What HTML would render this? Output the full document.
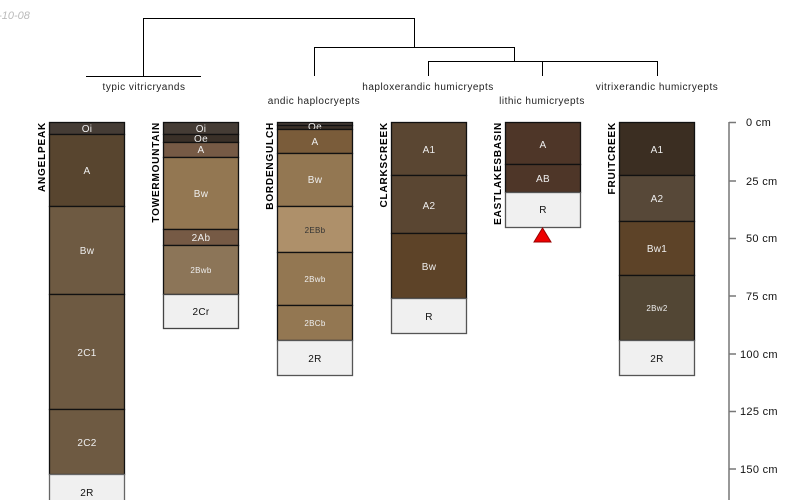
<!DOCTYPE html>
<html><head><meta charset="utf-8"><style>
html,body{margin:0;padding:0;background:#fff;}
svg{display:block;font-family:"Liberation Sans",sans-serif;}
</style></head><body>
<svg width="800" height="500" viewBox="0 0 800 500" xmlns="http://www.w3.org/2000/svg">
<text x="-8" y="19" font-size="11" font-style="italic" fill="#bbb">5-10-08</text>
<g stroke="#000" stroke-width="1" fill="none">
<path d="M143.5 76V18.5H414.5V47"/>
<path d="M86 76.5H201"/>
<path d="M314.5 76V47.5H514.5V61"/>
<path d="M428.5 76V61.5H657.5V76"/>
<path d="M542.5 61V76"/>
</g>
<g font-size="10" fill="#222" text-anchor="middle" letter-spacing="0.5">
<text x="144" y="90">typic vitricryands</text>
<text x="314" y="104">andic haplocryepts</text>
<text x="428" y="90">haploxerandic humicryepts</text>
<text x="542" y="104">lithic humicryepts</text>
<text x="657" y="90">vitrixerandic humicryepts</text>
</g>
<g font-size="10" font-weight="bold" fill="#000" letter-spacing="0.8">
<text transform="translate(45,122) rotate(-90)" text-anchor="end">ANGELPEAK</text>
<text transform="translate(159,122) rotate(-90)" text-anchor="end">TOWERMOUNTAIN</text>
<text transform="translate(273,122) rotate(-90)" text-anchor="end">BORDENGULCH</text>
<text transform="translate(387,122) rotate(-90)" text-anchor="end">CLARKSCREEK</text>
<text transform="translate(501,122) rotate(-90)" text-anchor="end">EASTLAKESBASIN</text>
<text transform="translate(615,122) rotate(-90)" text-anchor="end">FRUITCREEK</text>
</g>
<g stroke="#111" stroke-width="1.3" font-size="10" text-anchor="middle" letter-spacing="0.3">
<rect x="49.5" y="122.5" width="75" height="12" fill="#453c35"/><text x="87" y="132" fill="#eee" stroke="none">Oi</text>
<rect x="49.5" y="134.5" width="75" height="72" fill="#58452f"/><text x="87" y="174" fill="#eee" stroke="none">A</text>
<rect x="49.5" y="206.5" width="75" height="88" fill="#6e5a42"/><text x="87" y="254" fill="#eee" stroke="none">Bw</text>
<rect x="49.5" y="294.5" width="75" height="115" fill="#6e5a42"/><text x="87" y="356" fill="#eee" stroke="none">2C1</text>
<rect x="49.5" y="409.5" width="75" height="65" fill="#6e5a42"/><text x="87" y="446" fill="#eee" stroke="none">2C2</text>
<rect x="49.5" y="474.5" width="75" height="30" fill="#f0f0f0" stroke="#666"/><text x="87" y="496" fill="#111" stroke="none">2R</text>

<rect x="163.5" y="122.5" width="75" height="12" fill="#453c35"/><text x="201" y="132" fill="#eee" stroke="none">Oi</text>
<rect x="163.5" y="134.5" width="75" height="8" fill="#3a3028"/><text x="201" y="142" fill="#eee" stroke="none">Oe</text>
<rect x="163.5" y="142.5" width="75" height="15" fill="#765a45"/><text x="201" y="153" fill="#eee" stroke="none">A</text>
<rect x="163.5" y="157.5" width="75" height="72" fill="#937752"/><text x="201" y="197" fill="#eee" stroke="none">Bw</text>
<rect x="163.5" y="229.5" width="75" height="16" fill="#765a45"/><text x="201" y="241" fill="#eee" stroke="none">2Ab</text>
<rect x="163.5" y="245.5" width="75" height="49" fill="#8c7558"/><text x="201" y="273" fill="#eee" stroke="none" font-size="8">2Bwb</text>
<rect x="163.5" y="294.5" width="75" height="34" fill="#f0f0f0" stroke="#444"/><text x="201" y="315" fill="#111" stroke="none">2Cr</text>

<rect x="277.5" y="122.5" width="75" height="3" fill="#453c35"/>
<rect x="277.5" y="125.5" width="75" height="4" fill="#3a3028"/><text x="315" y="130" fill="#eee" stroke="none">Oe</text>
<rect x="277.5" y="129.5" width="75" height="24" fill="#7a5c3a"/><text x="315" y="145" fill="#eee" stroke="none">A</text>
<rect x="277.5" y="153.5" width="75" height="53" fill="#937752"/><text x="315" y="183" fill="#eee" stroke="none">Bw</text>
<rect x="277.5" y="206.5" width="75" height="46" fill="#ae906a"/><text x="315" y="233" fill="#333" stroke="none" font-size="8">2EBb</text>
<rect x="277.5" y="252.5" width="75" height="53" fill="#937752"/><text x="315" y="282" fill="#eee" stroke="none" font-size="8">2Bwb</text>
<rect x="277.5" y="305.5" width="75" height="35" fill="#937752"/><text x="315" y="326" fill="#eee" stroke="none" font-size="8">2BCb</text>
<rect x="277.5" y="340.5" width="75" height="35" fill="#f0f0f0" stroke="#555"/><text x="315" y="362" fill="#111" stroke="none">2R</text>

<rect x="391.5" y="122.5" width="75" height="53" fill="#5a4632"/><text x="429" y="153" fill="#eee" stroke="none">A1</text>
<rect x="391.5" y="175.5" width="75" height="58" fill="#5a4632"/><text x="429" y="209" fill="#eee" stroke="none">A2</text>
<rect x="391.5" y="233.5" width="75" height="65" fill="#5d4328"/><text x="429" y="270" fill="#eee" stroke="none">Bw</text>
<rect x="391.5" y="298.5" width="75" height="35" fill="#f0f0f0" stroke="#555"/><text x="429" y="320" fill="#111" stroke="none">R</text>

<rect x="505.5" y="122.5" width="75" height="42" fill="#4e3628"/><text x="543" y="148" fill="#eee" stroke="none">A</text>
<rect x="505.5" y="164.5" width="75" height="28" fill="#4e3628"/><text x="543" y="182" fill="#eee" stroke="none">AB</text>
<rect x="505.5" y="192.5" width="75" height="35" fill="#f0f0f0" stroke="#555"/><text x="543" y="213" fill="#111" stroke="none">R</text>
<polygon points="542.5,228 534,242 551,242" fill="#e00" stroke="#900" stroke-width="1"/>

<rect x="619.5" y="122.5" width="75" height="53" fill="#3b2e22"/><text x="657" y="153" fill="#eee" stroke="none">A1</text>
<rect x="619.5" y="175.5" width="75" height="46" fill="#574838"/><text x="657" y="202" fill="#eee" stroke="none">A2</text>
<rect x="619.5" y="221.5" width="75" height="54" fill="#5d4328"/><text x="657" y="252" fill="#eee" stroke="none">Bw1</text>
<rect x="619.5" y="275.5" width="75" height="65" fill="#524634"/><text x="657" y="311" fill="#eee" stroke="none" font-size="8">2Bw2</text>
<rect x="619.5" y="340.5" width="75" height="35" fill="#f0f0f0" stroke="#555"/><text x="657" y="362" fill="#111" stroke="none">2R</text>
</g>
<g stroke="#777" stroke-width="1.5">
<line x1="729" y1="122" x2="729" y2="500"/>
<line x1="729" y1="122.5" x2="736" y2="122.5"/>
<line x1="729" y1="181" x2="736" y2="181"/>
<line x1="729" y1="238.5" x2="736" y2="238.5"/>
<line x1="729" y1="296" x2="736" y2="296"/>
<line x1="729" y1="354" x2="736" y2="354"/>
<line x1="729" y1="411.5" x2="736" y2="411.5"/>
<line x1="729" y1="469" x2="736" y2="469"/>
</g>
<g font-size="11" fill="#111" letter-spacing="0.3">
<text x="746" y="126">0 cm</text>
<text x="746" y="185">25 cm</text>
<text x="746" y="242">50 cm</text>
<text x="746" y="300">75 cm</text>
<text x="740" y="358">100 cm</text>
<text x="740" y="415">125 cm</text>
<text x="740" y="473">150 cm</text>
</g>
</svg>
</body></html>
